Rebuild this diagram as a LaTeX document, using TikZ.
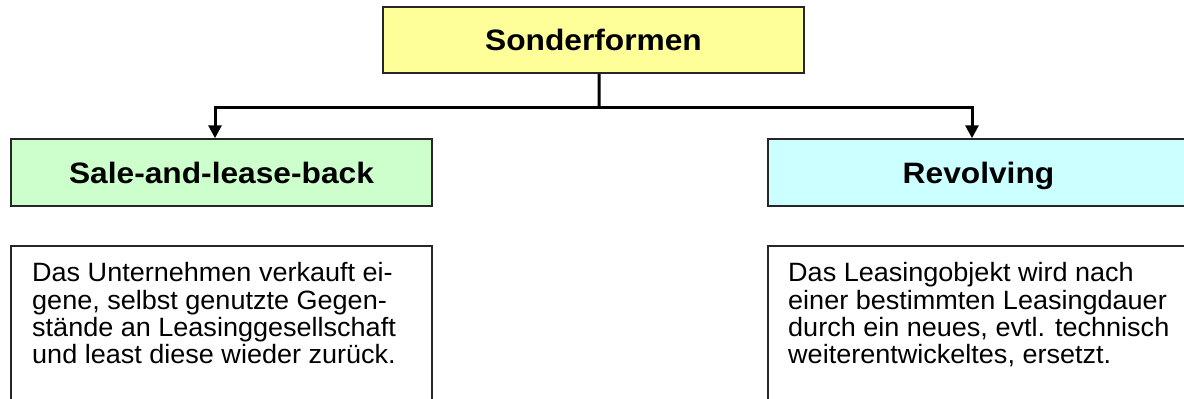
\documentclass[tikz,border=0pt]{standalone}
\usepackage{fontspec}
\setmainfont{Liberation Sans}[FakeStretch=1.075]
\newfontfamily\bodyfont{Liberation Sans}[FakeStretch=1.02]
\usetikzlibrary{arrows.meta}
\definecolor{hyellow}{HTML}{FFFF99}
\definecolor{hgreen}{HTML}{CCFFCC}
\definecolor{hcyan}{HTML}{CCFFFF}
\begin{document}
\begin{tikzpicture}[x=1bp,y=-1bp,
  headbox/.style={draw=black!85, line width=1.5bp, minimum width=421bp, minimum height=66bp, inner sep=0pt,
    text height=21.5bp, text depth=0bp,
    font=\fontsize{29.5bp}{32bp}\selectfont\bfseries},
  textbox/.style={draw=black!85, line width=1.5bp, minimum width=421bp, minimum height=174bp, inner sep=0pt},
  bodytext/.style={anchor=north west, inner sep=0pt, align=left,
    font=\bodyfont\fontsize{26.5bp}{27.3bp}\selectfont},
  conn/.style={line width=3bp, draw=black},
  connarrow/.style={conn, -{Triangle[width=13bp,length=13bp]}}]
\path[use as bounding box] (0,0) rectangle (1184,398);
\clip (0,0) rectangle (1184,398);
\fill[white] (0,0) rectangle (1184,398);

\node[headbox, fill=hyellow] (top) at (593.5,40) {Sonderformen};
\node[headbox, fill=hgreen, minimum height=67bp] (lh) at (221.5,172.5) {Sale-and-lease-back};
\node[headbox, fill=hcyan, minimum height=67bp] (rh) at (978.5,172.5) {Revolving};

\node[textbox] (lbox) at (221.5,333) {};
\node[textbox] (rbox) at (978.5,333) {};

\node[bodytext] (ltext) at (32,262.5) {Das Unternehmen verkauft ei-\\gene, selbst genutzte Gegen-\\stände an Leasinggesellschaft\\und least diese wieder zurück.};
\node[bodytext] (rtext) at (788,262.5) {Das Leasingobjekt wird nach\\einer bestimmten Leasingdauer\\durch ein neues, evtl. technisch\\weiterentwickeltes, ersetzt.};

\coordinate (j) at (599,107);
\draw[conn] ([xshift=5.5bp]top.south) -- (j);
\draw[connarrow] (j) -| ([xshift=-6.5bp]lh.north);
\draw[connarrow] (j) -| ([xshift=-6.5bp]rh.north);
\end{tikzpicture}
\end{document}
